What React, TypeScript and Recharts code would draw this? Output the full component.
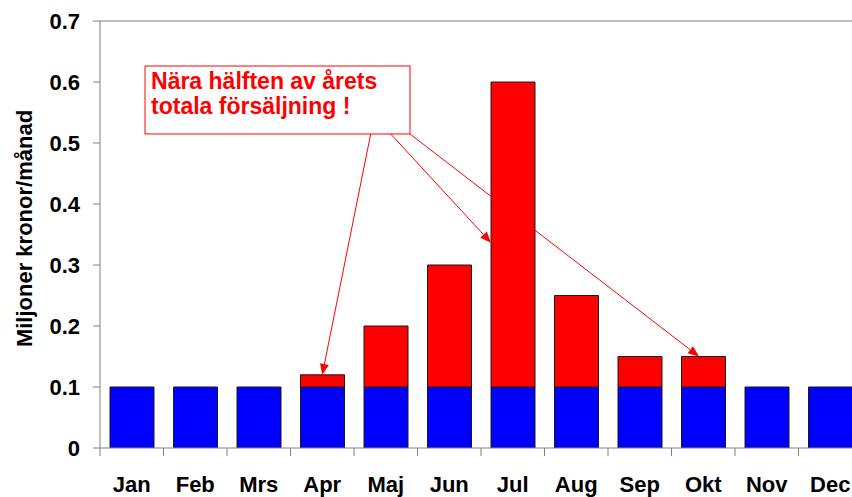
import React from 'react';
import { BarChart, Bar, XAxis, YAxis, ReferenceLine, ReferenceArea } from 'recharts';

// ---- data ----
const months = ['Jan', 'Feb', 'Mrs', 'Apr', 'Maj', 'Jun', 'Jul', 'Aug', 'Sep', 'Okt', 'Nov', 'Dec'];
const baseSales = [0.1, 0.1, 0.1, 0.1, 0.1, 0.1, 0.1, 0.1, 0.1, 0.1, 0.1, 0.1];
const extraSales = [0, 0, 0, 0.02, 0.1, 0.2, 0.5, 0.15, 0.05, 0.05, 0, 0];
const yTicks = [0, 0.1, 0.2, 0.3, 0.4, 0.5, 0.6, 0.7];
const yTitle = 'Miljoner kronor/månad';
const calloutLines = ['Nära hälften av årets', 'totala försäljning !'];

const data = months.map((m, i) => ({ month: m, pos: i + 0.5, base: baseSales[i], extra: extraSales[i] }));

// ---- layout ----
const CHART_W = 870;
const CHART_H = 497;
const MARGIN = { top: 21, right: 8, left: 0, bottom: 0 };
const YAXIS_W = 100;
const XAXIS_H = 49;
const AXIS_Y = CHART_H - MARGIN.bottom - XAXIS_H;
const CAT_W = (CHART_W - MARGIN.left - MARGIN.right - YAXIS_W) / months.length;
const AXIS_COLOR = '#808080';
const RED = '#ff0000';
const BLUE = '#0000ff';
const FONT = '"Liberation Sans", Arial, Helvetica, sans-serif';

// callout (in data units of a hidden 0..12 numeric x axis; month i spans i..i+1)
const calloutBox = { x1: 0.709, x2: 4.882, y1: 0.5148, y2: 0.6262 };
const arrows = [
  { from: { x: 4.263, y: 0.5148 }, to: { x: 3.5, y: 0.12 } },
  { from: { x: 4.578, y: 0.5148 }, to: { x: 6.157, y: 0.3366 } },
  { from: { x: 4.882, y: 0.5148 }, to: { x: 9.433, y: 0.15 } },
];

const MonthTick = (props: any) => {
  const { x, payload } = props;
  const idx = payload?.index ?? props.index ?? 0;
  const left = x - CAT_W / 2;
  const right = x + CAT_W / 2;
  return (
    <g>
      <line x1={left} x2={left} y1={AXIS_Y} y2={AXIS_Y + 8} stroke={AXIS_COLOR} strokeWidth={1} />
      {idx === months.length - 1 && (
        <line x1={right} x2={right} y1={AXIS_Y} y2={AXIS_Y + 8} stroke={AXIS_COLOR} strokeWidth={1} />
      )}
      <text
        x={x}
        y={AXIS_Y + 44}
        textAnchor="middle"
        fill="#000"
        fontSize={22}
        fontWeight="bold"
        fontFamily={FONT}
      >
        {payload.value}
      </text>
    </g>
  );
};

const YTitle = (props: any) => {
  const vb = props.viewBox || { x: 0, y: MARGIN.top, width: YAXIS_W, height: AXIS_Y - MARGIN.top };
  const cx = 32;
  const cy = vb.y + vb.height / 2 - 6;
  return (
    <text
      x={cx}
      y={cy}
      transform={`rotate(-90, ${cx}, ${cy})`}
      textAnchor="middle"
      fill="#000"
      fontSize={22}
      fontWeight="bold"
      fontFamily={FONT}
    >
      {yTitle}
    </text>
  );
};

const CalloutShape = (props: any) => {
  const { x, y, width, height } = props;
  return (
    <g>
      <rect x={x} y={y} width={width} height={height} fill="#fff" stroke={RED} strokeWidth={1} />
      {calloutLines.map((t, i) => (
        <text
          key={i}
          x={x + 6}
          y={y + 23 + i * 25}
          fill={RED}
          fontSize={23}
          fontWeight="bold"
          fontFamily={FONT}
        >
          {t}
        </text>
      ))}
    </g>
  );
};

const ArrowShape = (props: any) => {
  const { x1, y1, x2, y2 } = props;
  const ang = Math.atan2(y2 - y1, x2 - x1);
  const L = 11;
  const W = 4.5;
  const bx = x2 - L * Math.cos(ang);
  const by = y2 - L * Math.sin(ang);
  const px = -Math.sin(ang) * W;
  const py = Math.cos(ang) * W;
  return (
    <g>
      <line x1={x1} y1={y1} x2={bx} y2={by} stroke={RED} strokeWidth={1} />
      <polygon points={`${x2},${y2} ${bx + px},${by + py} ${bx - px},${by - py}`} fill={RED} />
    </g>
  );
};

export default function App() {
  return (
    <div
      style={{
        position: 'absolute',
        left: 0,
        top: 0,
        width: 852,
        height: 497,
        overflow: 'hidden',
        background: '#fff',
      }}
    >
      <BarChart
        width={CHART_W}
        height={CHART_H}
        data={data}
        margin={MARGIN}
        style={{ fontFamily: FONT }}
      >
        <XAxis
          dataKey="month"
          height={XAXIS_H}
          interval={0}
          tickLine={false}
          axisLine={{ stroke: AXIS_COLOR }}
          tick={MonthTick}
        />
        <XAxis
          xAxisId="num"
          dataKey="pos"
          type="number"
          domain={[0, months.length]}
          padding={{ left: 0, right: 0 }}
          hide
          allowDataOverflow
        />
        <YAxis
          width={YAXIS_W}
          domain={[0, 0.7]}
          ticks={yTicks}
          interval={0}
          allowDataOverflow
          tickSize={7}
          tickMargin={13}
          axisLine={{ stroke: AXIS_COLOR }}
          tickLine={{ stroke: AXIS_COLOR }}
          tick={{ fill: '#000', fontSize: 22, fontWeight: 'bold', fontFamily: FONT }}
          tickFormatter={(v: number) => String(v)}
          label={{ content: (p: any) => <YTitle {...p} /> }}
        />
        <ReferenceLine y={0.7} stroke={AXIS_COLOR} strokeWidth={1} />
        <Bar dataKey="base" stackId="s" fill={BLUE} stroke="#1a1a1a" strokeWidth={1} barSize={44} isAnimationActive={false} />
        <Bar dataKey="extra" stackId="s" fill={RED} stroke="#1a1a1a" strokeWidth={1} barSize={44} isAnimationActive={false} />
        <ReferenceArea
          xAxisId="num"
          x1={calloutBox.x1}
          x2={calloutBox.x2}
          y1={calloutBox.y1}
          y2={calloutBox.y2}
          ifOverflow="visible"
          shape={CalloutShape}
        />
        {arrows.map((a, i) => (
          <ReferenceLine key={i} xAxisId="num" segment={[a.from, a.to]} ifOverflow="visible" shape={ArrowShape} />
        ))}
      </BarChart>
    </div>
  );
}
